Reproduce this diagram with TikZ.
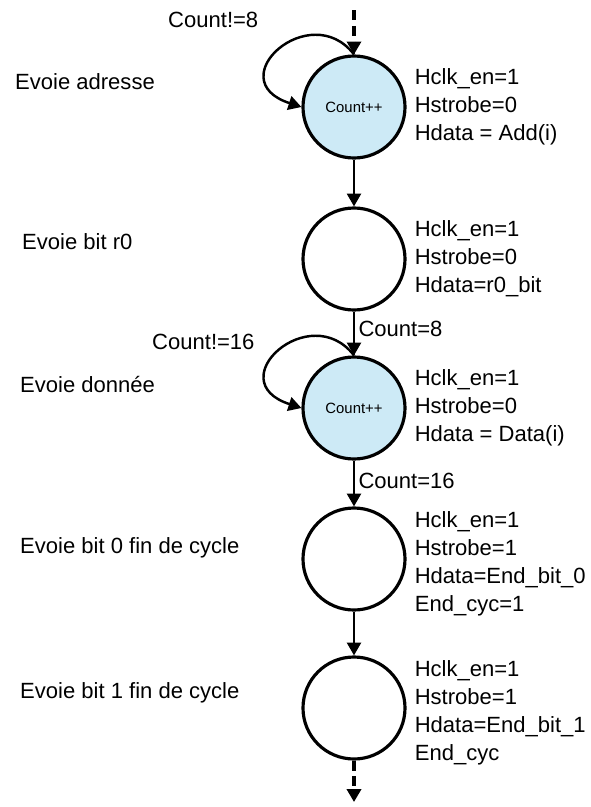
\documentclass[tikz,border=0pt]{standalone}
\usepackage{fontspec}
\setmainfont{Liberation Sans}
\usetikzlibrary{arrows.meta,positioning}
\definecolor{statefill}{RGB}{205,234,246}
\tikzset{
  state/.style={circle,draw,line width=2.7pt,minimum size=3.06cm,inner sep=0pt},
  busy/.style={state,fill=statefill},
  outs/.style={align=left,inner sep=0pt,font=\fontsize{18.8}{23.8}\selectfont},
  lbl/.style={anchor=west,inner sep=0pt,font=\fontsize{18.8}{22}\selectfont},
  flow/.style={line width=2.1pt,-{Triangle[length=11pt,width=12pt]}},
  open/.style={flow,line width=2.7pt,dash pattern=on 8.5pt off 5pt}
}
\begin{document}
\begin{tikzpicture}[x=0.03cm,y=-0.03cm]
    \useasboundingbox (0,0) rectangle (591,807);
    % states
    \node[busy] (c1) at (354,107) {\fontsize{12.7}{14}\selectfont Count++};
    \node[state] (c2) at (354,259) {};
    \node[busy] (c3) at (354,408) {\fontsize{12.7}{14}\selectfont Count++};
    \node[state] (c4) at (354,559) {};
    \node[state] (c5) at (354,708) {};
    % state names
    \node[lbl] (n1) at (15,82) {Evoie adresse};
    \node[lbl] (n2) at (22,242) {Evoie bit r0};
    \node[lbl] (n3) at (20,384) {Evoie donnée};
    \node[lbl] (n4) at (20,548) {Evoie bit 0 fin de cycle};
    \node[lbl] (n5) at (20,693) {Evoie bit 1 fin de cycle};
    % outputs
    \node[outs,right=0.24cm of c1] (o1) {Hclk\_en=1\\Hstrobe=0\\Hdata = Add(i)};
    \node[outs,right=0.24cm of c2] (o2) {Hclk\_en=1\\Hstrobe=0\\Hdata=r0\_bit};
    \node[outs,right=0.24cm of c3] (o3) {Hclk\_en=1\\Hstrobe=0\\Hdata = Data(i)};
    \node[outs,right=0.24cm of c4,yshift=-0.15cm] (o4) {Hclk\_en=1\\Hstrobe=1\\Hdata=End\_bit\_0\\End\_cyc=1};
    \node[outs,right=0.24cm of c5,yshift=-0.15cm] (o5) {Hclk\_en=1\\Hstrobe=1\\Hdata=End\_bit\_1\\End\_cyc};
    % transitions
    \coordinate (in) at (354,10);
    \coordinate (out) at (354,802);
    \draw[open] (in) -- (c1.north);
    \draw[flow] (c1) -- (c2);
    \draw[flow] (c2) -- (c3) node[lbl,pos=0.4,xshift=0.1cm] (t1) {Count=8};
    \draw[flow] (c3) -- (c4) node[lbl,pos=0.45,xshift=0.1cm] (t2) {Count=16};
    \draw[flow] (c4) -- (c5);
    \draw[open] (c5.south) -- (out);
    % loops
    \draw[flow] (c1.north) .. controls +(-44,-57) and +(-83,-27) .. (c1.west);
    \node[lbl] (k1) at (168,20) {Count!=8};
    \draw[flow] (c3.north) .. controls +(-44,-57) and +(-83,-27) .. (c3.west);
    \node[lbl] (k2) at (152,342) {Count!=16};
\end{tikzpicture}
\end{document}
